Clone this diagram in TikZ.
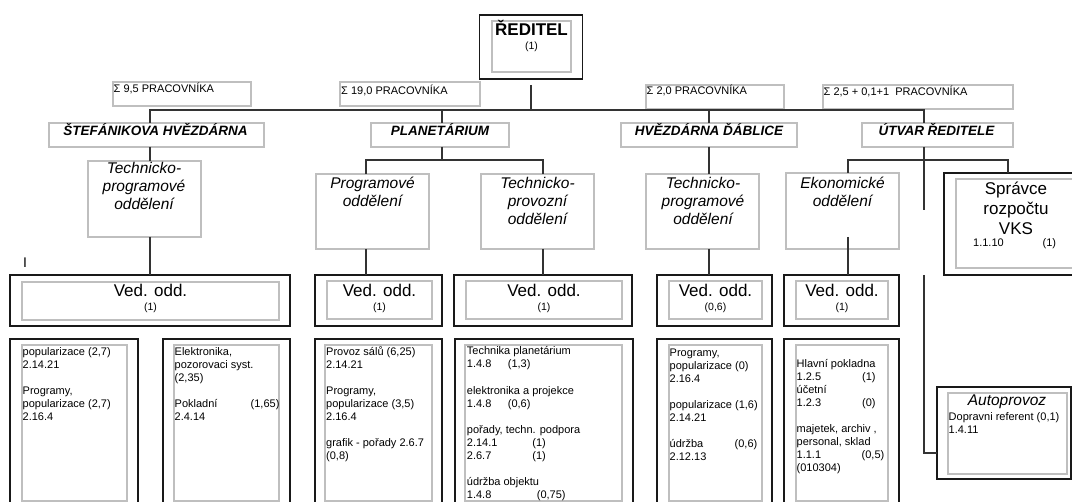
\documentclass[tikz,border=0pt]{standalone}
\usepackage{fontspec}
\setmainfont{Liberation Sans}
\newcommand\tabcol[2]{\makebox[#1pt][l]{#2}}
\tikzset{
  boxgray/.style={draw=black!25, line width=1.1pt, anchor=north west, inner sep=0pt, outer sep=0pt},
  boxblack/.style={draw=black!90, line width=1.2pt, anchor=north west, inner sep=0pt, outer sep=0pt},
  link/.style={draw=black!80, line width=1.2pt},
  redtxt/.style={anchor=base, inner sep=0pt, font=\fontsize{17}{20}\selectfont\bfseries},
  sumtxt/.style={anchor=base west, inner sep=0pt, font=\fontsize{11}{13}\selectfont},
  depttxt/.style={anchor=base, inner sep=0pt, font=\fontsize{13.5}{16}\selectfont\bfseries\itshape},
  subtxt/.style={anchor=north, align=center, inner sep=0pt, font=\fontsize{15.5}{18}\selectfont\itshape},
  spravtxt/.style={anchor=north, align=center, inner sep=0pt, font=\fontsize{17}{20}\selectfont},
  vedtxt/.style={anchor=base, inner sep=0pt, font=\fontsize{17}{20}\selectfont},
  numtxt/.style={anchor=base, inner sep=0pt, font=\fontsize{10.5}{12}\selectfont},
  listtxt/.style={anchor=north west, align=left, inner sep=0pt, font=\fontsize{11}{12.9}\selectfont},
}
\begin{document}
\begin{tikzpicture}[x=1pt,y=-1pt]
  \useasboundingbox (0,0) rectangle (1072,502);
  \clip (0,0) rectangle (1072,502);

  % Reditel
  \node[boxblack, minimum width=103, minimum height=64] (red) at (479.5,15) {};
  \node[boxgray, minimum width=79, minimum height=51] (redin) at (492,21) {};
  \node[redtxt] (redname) at (531.5,36) {ŘEDITEL};
  \node[numtxt] (rednum) at (531.5,49.5) {(1)};

  % Sums
  \node[boxgray, minimum width=138, minimum height=24] (sum1) at (113,82) {};
  \node[sumtxt] (sum1t) at (113.5,92.7) {Σ 9,5 PRACOVNÍKA};
  \node[boxgray, minimum width=140, minimum height=24] (sum2) at (340,82) {};
  \node[sumtxt] (sum2t) at (341,95) {Σ 19,0 PRACOVNÍKA};
  \node[boxgray, minimum width=138, minimum height=24] (sum3) at (646,85) {};
  \node[sumtxt] (sum3t) at (646.5,95) {Σ 2,0 PRACOVNÍKA};
  \node[boxgray, minimum width=190, minimum height=24] (sum4) at (823,85) {};
  \node[sumtxt] (sum4t) at (823.5,96) {Σ 2,5 + 0,1+1\ \ PRACOVNÍKA};

  % Departments
  \node[boxgray, minimum width=215, minimum height=24] (dStef) at (49,123) {};
  \node[depttxt] (dSteft) at (155.5,136) {ŠTEFÁNIKOVA HVĚZDÁRNA};
  \node[boxgray, minimum width=138, minimum height=24] (dPlan) at (371,123) {};
  \node[depttxt] (dPlant) at (440,136) {PLANETÁRIUM};
  \node[boxgray, minimum width=176, minimum height=24] (dDab) at (621,123) {};
  \node[depttxt] (dDabt) at (709,136) {HVĚZDÁRNA ĎÁBLICE};
  \node[boxgray, minimum width=151, minimum height=24] (dUtv) at (862,123) {};
  \node[depttxt] (dUtvt) at (936.5,136) {ÚTVAR ŘEDITELE};

  % Sections
  \node[boxgray, minimum width=113, minimum height=76] (oStef) at (88,161) {};
  \node[subtxt] (oSteft) at (144,160.7) {\strut Technicko-\\programové\\oddělení};
  \node[boxgray, minimum width=113, minimum height=75] (oProg) at (316,174) {};
  \node[subtxt] (oProgt) at (372.5,175.7) {\strut Programové\\oddělení};
  \node[boxgray, minimum width=113, minimum height=75] (oTech) at (481,174) {};
  \node[subtxt] (oTecht) at (537.5,175.7) {\strut Technicko-\\provozní\\oddělení};
  \node[boxgray, minimum width=113, minimum height=75] (oDab) at (646,174) {};
  \node[subtxt] (oDabt) at (703,175.7) {\strut Technicko-\\programové\\oddělení};
  \node[boxgray, minimum width=113, minimum height=76] (oEko) at (786,173) {};
  \node[subtxt] (oEkot) at (842.5,175.7) {\strut Ekonomické\\oddělení};

  % Spravce
  \node[boxblack, minimum width=144, minimum height=102] (sprav) at (944,173) {};
  \node[boxgray, minimum width=120, minimum height=89] (spravin) at (956,179) {};
  \node[spravtxt] (spravt) at (1016,180.3) {\strut Správce\\rozpočtu\\VKS};
  \node[sumtxt] (spravn) at (973,246.7) {1.1.10};
  \node[sumtxt] (spravc) at (1042.5,246.7) {(1)};

  % Ved. odd.
  \node[sumtxt, font=\fontsize{14}{16}\selectfont] (mark) at (23,268) {I};
  \node[boxblack, minimum width=280, minimum height=51] (vStef) at (10,275) {};
  \node[boxgray, minimum width=257, minimum height=38] (vStefin) at (22,282) {};
  \node[vedtxt] (vSteft) at (150.5,296.7) {Ved. odd.};
  \node[numtxt] (vStefn) at (150.5,310.5) {(1)};
  \node[boxblack, minimum width=127, minimum height=51] (vProg) at (315,275) {};
  \node[boxgray, minimum width=105, minimum height=38] (vProgin) at (327,281) {};
  \node[vedtxt] (vProgt) at (379.5,296.7) {Ved. odd.};
  \node[numtxt] (vProgn) at (379.5,310.5) {(1)};
  \node[boxblack, minimum width=178, minimum height=51] (vTech) at (454,275) {};
  \node[boxgray, minimum width=156, minimum height=38] (vTechin) at (466,281) {};
  \node[vedtxt] (vTecht) at (544,296.7) {Ved. odd.};
  \node[numtxt] (vTechn) at (544,310.5) {(1)};
  \node[boxblack, minimum width=115, minimum height=51] (vDab) at (657,275) {};
  \node[boxgray, minimum width=93, minimum height=38] (vDabin) at (669,281) {};
  \node[vedtxt] (vDabt) at (715.5,296.7) {Ved. odd.};
  \node[numtxt] (vDabn) at (715.5,310.5) {(0,6)};
  \node[boxblack, minimum width=115, minimum height=51] (vEko) at (784,275) {};
  \node[boxgray, minimum width=92, minimum height=38] (vEkoin) at (796,281) {};
  \node[vedtxt] (vEkot) at (842,296.7) {Ved. odd.};
  \node[numtxt] (vEkon) at (842,310.5) {(1)};

  % Staff lists
  \node[boxblack, minimum width=128, minimum height=175] (l1) at (10,339) {};
  \node[boxgray, minimum width=105, minimum height=156] (l1in) at (22,345) {};
  \node[listtxt] (l1t) at (22.5,346.2) {\strut popularizace (2,7)\\2.14.21\\[13.4pt]Programy,\\popularizace (2,7)\\2.16.4};
  \node[boxblack, minimum width=127, minimum height=175] (l2) at (163,339) {};
  \node[boxgray, minimum width=105, minimum height=156] (l2in) at (174,345) {};
  \node[listtxt] (l2t) at (174.5,346) {\strut Elektronika,\\pozorovaci syst.\\(2,35)\\[13.4pt]\tabcol{76}{Pokladní}(1,65)\\2.4.14};
  \node[boxblack, minimum width=127, minimum height=175] (l3) at (315,339) {};
  \node[boxgray, minimum width=107, minimum height=156] (l3in) at (325,345) {};
  \node[listtxt] (l3t) at (326,346) {\strut Provoz sálů (6,25)\\2.14.21\\[13.4pt]Programy,\\popularizace (3,5)\\2.16.4\\[13.4pt]grafik - pořady 2.6.7\\(0,8)};
  \node[boxblack, minimum width=178, minimum height=175] (l4) at (455,339) {};
  \node[boxgray, minimum width=157, minimum height=156] (l4in) at (465,345) {};
  \node[listtxt] (l4t) at (466.7,345.7) {\strut Technika planetárium\\\tabcol{41}{1.4.8}(1,3)\\[13.4pt]elektronika a projekce\\\tabcol{41}{1.4.8}(0,6)\\[13.4pt]pořady, techn. podpora\\\tabcol{65.5}{2.14.1}(1)\\\tabcol{65.5}{2.6.7}(1)\\[13.4pt]údržba objektu\\\tabcol{70}{1.4.8}(0,75)};
  \node[boxblack, minimum width=115, minimum height=175] (l5) at (657,339) {};
  \node[boxgray, minimum width=93, minimum height=156] (l5in) at (669,345) {};
  \node[listtxt] (l5t) at (669.5,347.4) {\strut Programy,\\popularizace (0)\\2.16.4\\[13.4pt]popularizace (1,6)\\2.14.21\\[13.4pt]\tabcol{65}{údržba}(0,6)\\2.12.13};
  \node[boxblack, minimum width=115, minimum height=175] (l6) at (784,339) {};
  \node[boxgray, minimum width=92, minimum height=156] (l6in) at (796,345) {};
  \node[listtxt] (l6t) at (796.5,358.3) {\strut Hlavní pokladna\\\tabcol{65.5}{1.2.5}(1)\\účetní\\\tabcol{65.5}{1.2.3}(0)\\[13.4pt]majetek, archiv ,\\personal, sklad\\\tabcol{65}{1.1.1}(0,5)\\(010304)};

  % Autoprovoz
  \node[boxblack, minimum width=134, minimum height=92] (auto) at (937,387) {};
  \node[boxgray, minimum width=119, minimum height=81] (autoin) at (948,393) {};
  \node[anchor=base, inner sep=0pt, font=\fontsize{15.5}{18}\selectfont\itshape] (autot) at (1007,406) {Autoprovoz};
  \node[listtxt] (autol) at (948.5,411) {\strut Dopravni referent (0,1)\\1.4.11};

  % Coordinates
  \coordinate (xStef) at (150,110);
  \coordinate (xPlan) at (442,110);
  \coordinate (xDab) at (709,110);
  \coordinate (xUtv) at (924,110);
  \coordinate (bPlanA) at (366,160);
  \coordinate (bPlanB) at (543,160);
  \coordinate (bUtvA) at (848,160);
  \coordinate (bUtvB) at (1008,160);
  \coordinate (uGapA) at (924,210);
  \coordinate (uGapB) at (924,275);
  \coordinate (uEnd) at (924,453);

  % Drawing
  \draw[link, shorten <=6pt] (red.south) -- (red.south |- xStef);
  \draw[link] (xStef |- dStef.north) -- (xStef) -- (xUtv) -- (xUtv |- dUtv.north);
  \draw[link] (xPlan) -- (xPlan |- dPlan.north);
  \draw[link] (xDab) -- (xDab |- dDab.north);
  \draw[link] (xStef |- dStef.south) -- (xStef |- oStef.north);
  \draw[link] (xStef |- oStef.south) -- (xStef |- vStef.north);
  \draw[link] (xPlan |- dPlan.south) -- (xPlan |- bPlanA);
  \draw[link] (bPlanA |- oProg.north) -- (bPlanA) -- (bPlanB) -- (bPlanB |- oTech.north);
  \draw[link] (bPlanA |- oProg.south) -- (bPlanA |- vProg.north);
  \draw[link] (bPlanB |- oTech.south) -- (bPlanB |- vTech.north);
  \draw[link] (xDab |- dDab.south) -- (xDab |- oDab.north);
  \draw[link] (xDab |- oDab.south) -- (xDab |- vDab.north);
  \draw[link] (xUtv |- dUtv.south) -- (uGapA);
  \draw[link] (uGapB) -- (uEnd) -- (uEnd -| auto.west);
  \draw[link] (bUtvA |- oEko.north) -- (bUtvA) -- (bUtvB) -- (bUtvB |- sprav.north);
  \draw[link, shorten <=-12pt] (bUtvA |- oEko.south) -- (bUtvA |- vEko.north);
\end{tikzpicture}
\end{document}
